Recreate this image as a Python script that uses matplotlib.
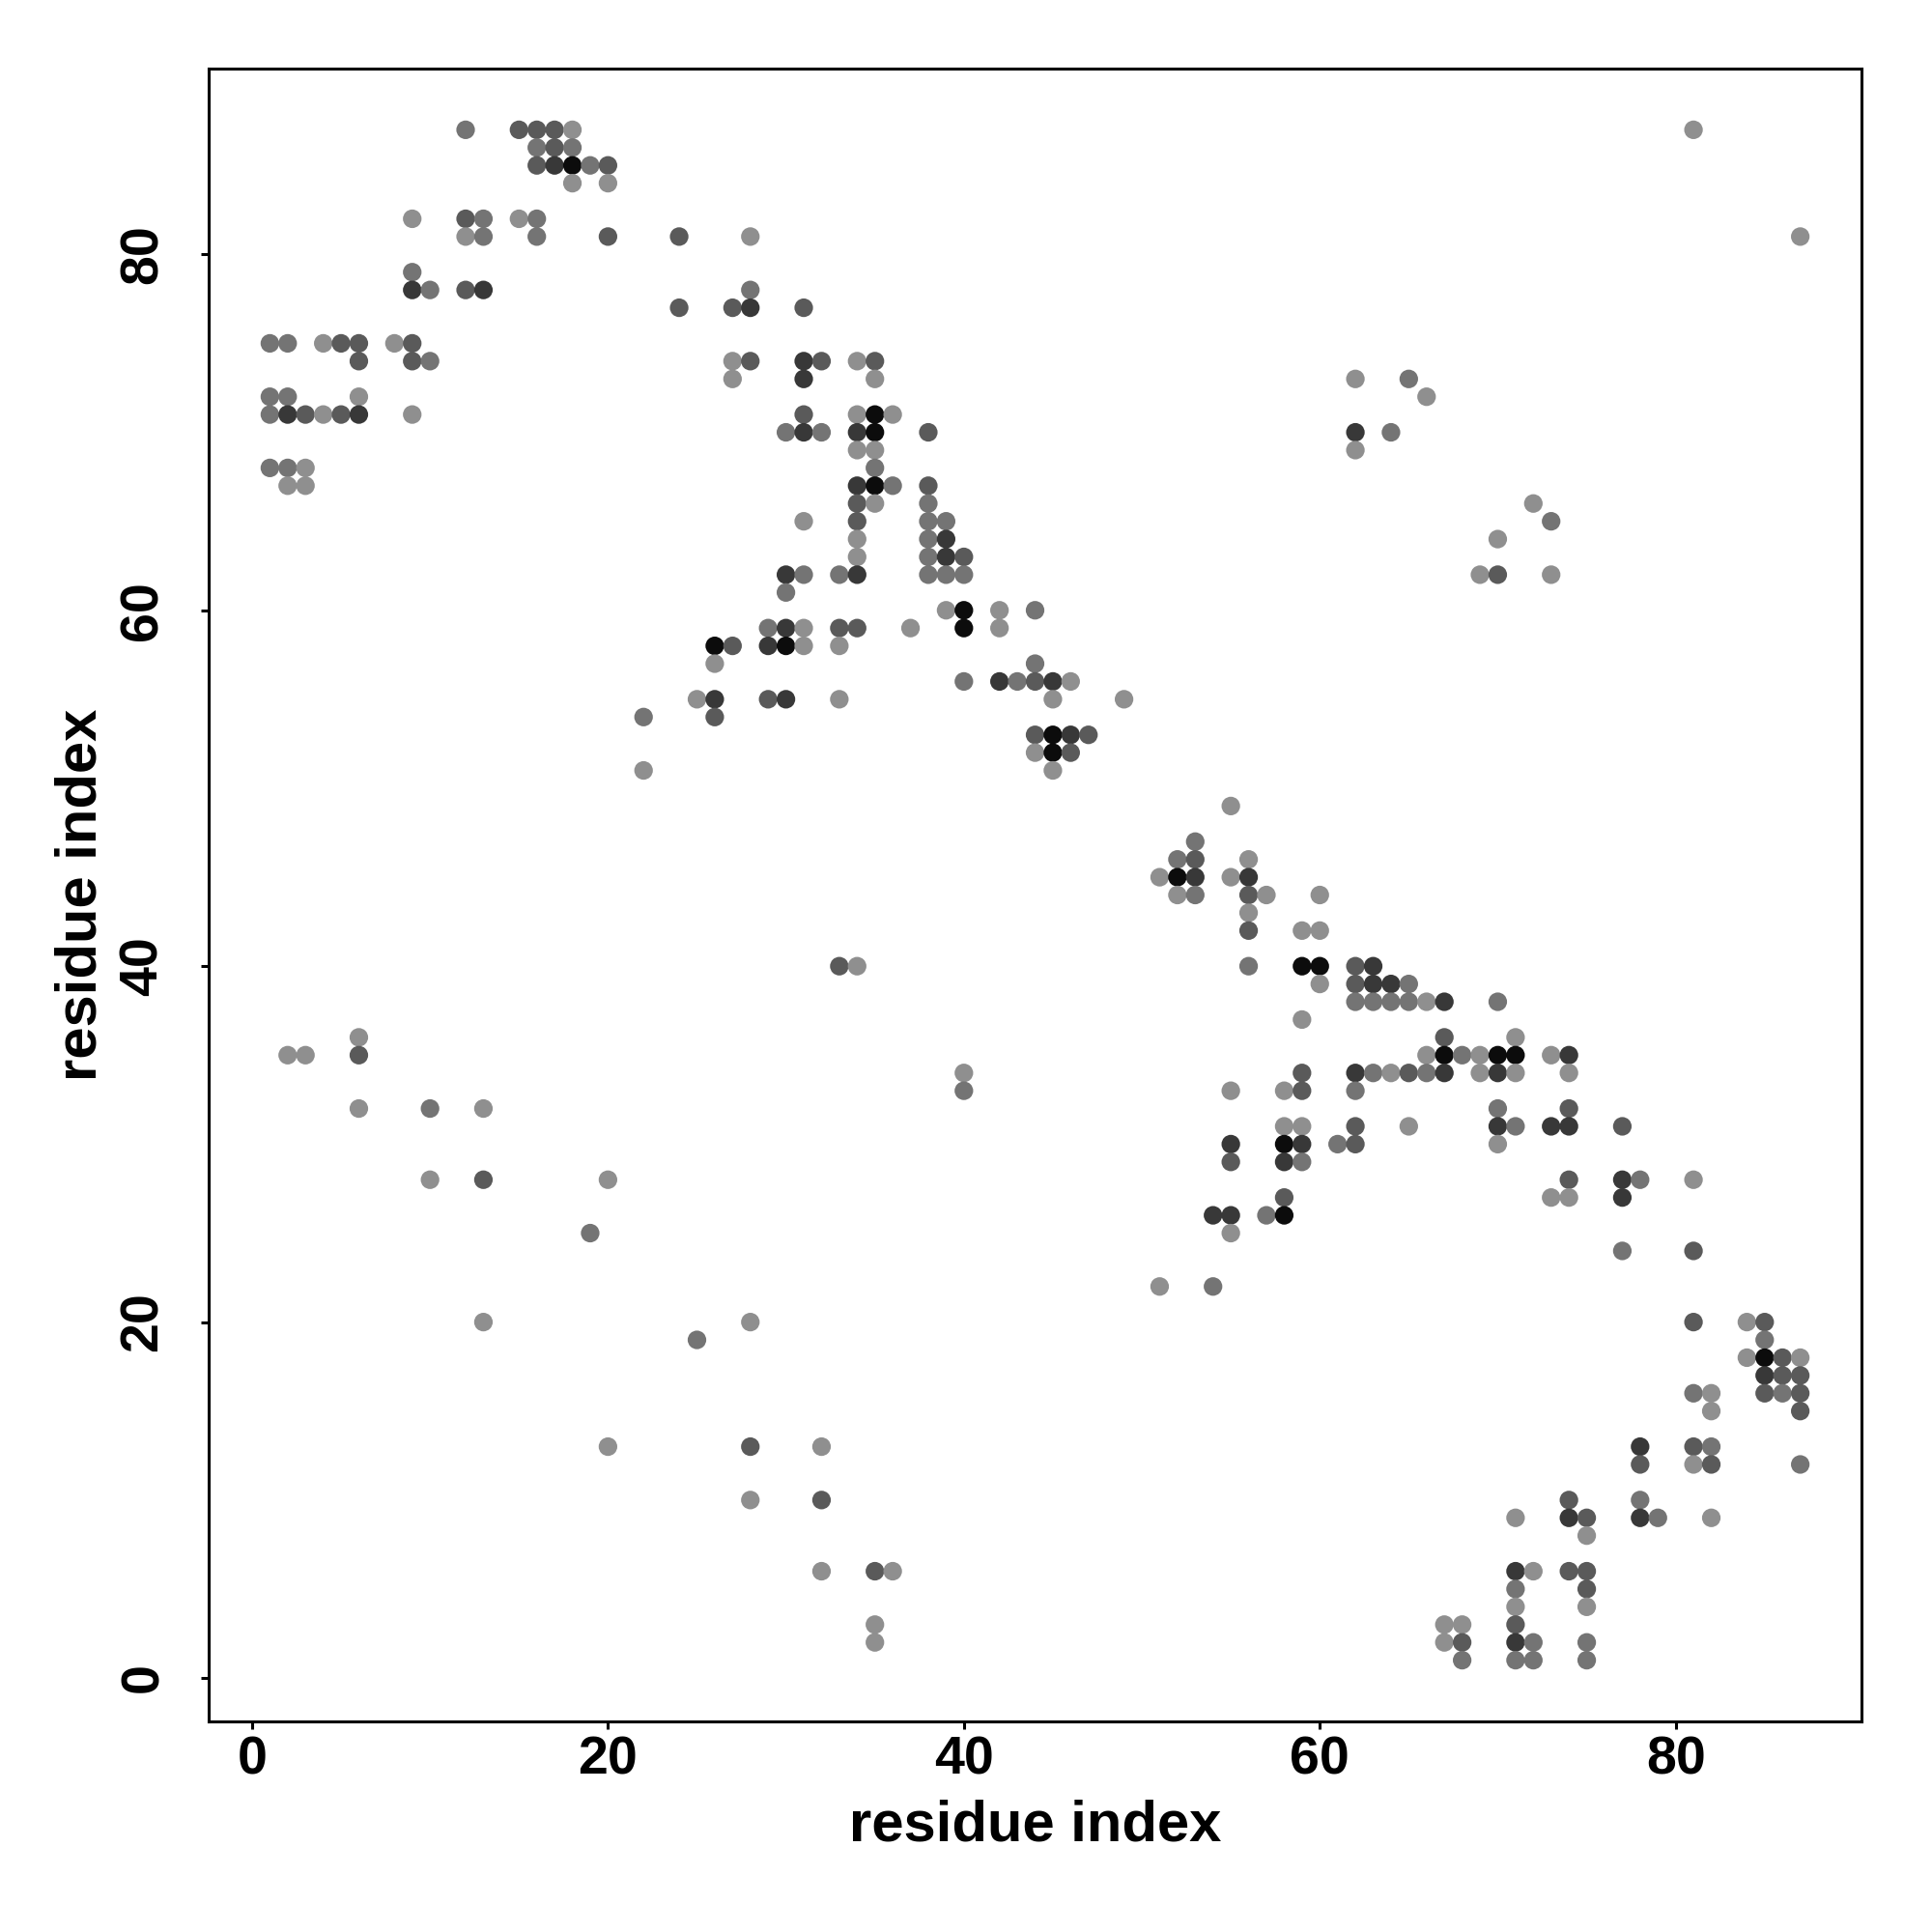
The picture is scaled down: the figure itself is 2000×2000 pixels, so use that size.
import matplotlib
matplotlib.use("Agg")
import matplotlib.pyplot as plt
import numpy as np

# contact map, one entry per row of the plot (residue j), with the partner residues i
# and how many times the contact shows up (drawn darker when it shows up more often)
row_j = [87, 86, 85, 84, 82, 81, 79, 78, 77, 75, 74, 73, 72, 71, 70, 69, 68, 67, 66, 65,
         64, 63, 62, 61, 60, 59, 58, 57, 56, 55, 54, 53, 52, 51, 49, 47, 46, 45, 44, 43,
         42, 40, 39, 38, 37, 36, 35, 34, 33, 32, 31, 30, 29, 28, 27, 26, 25, 24, 22, 20,
         19, 18, 17, 16, 15, 13, 12, 10, 9, 8, 6, 5, 4, 3, 2, 1]

row_i = [
    [12, 15, 16, 17, 18, 81],
    [16, 17, 18],
    [16, 17, 18, 19, 20],
    [18, 20],
    [9, 12, 13, 15, 16],
    [12, 13, 16, 20, 24, 28, 87],
    [9],
    [9, 10, 12, 13, 28],
    [24, 27, 28, 31],
    [1, 2, 4, 5, 6, 8, 9],
    [6, 9, 10, 27, 28, 31, 32, 34, 35],
    [27, 31, 35, 62, 65],
    [1, 2, 6, 66],
    [1, 2, 3, 4, 5, 6, 9, 31, 34, 35, 36],
    [30, 31, 32, 34, 35, 38, 62, 64],
    [34, 35, 62],
    [1, 2, 3, 35],
    [2, 3, 34, 35, 36, 38],
    [34, 35, 38, 72],
    [31, 34, 38, 39, 73],
    [34, 38, 39, 70],
    [34, 38, 39, 40],
    [30, 31, 33, 34, 38, 39, 40, 69, 70, 73],
    [30],
    [39, 40, 42, 44],
    [29, 30, 31, 33, 34, 37, 40, 42],
    [26, 27, 29, 30, 31, 33],
    [26, 44],
    [40, 42, 43, 44, 45, 46],
    [25, 26, 29, 30, 33, 45, 49],
    [22, 26],
    [44, 45, 46, 47],
    [44, 45, 46],
    [22, 45],
    [55],
    [53],
    [52, 53, 56],
    [51, 52, 53, 55, 56],
    [52, 53, 56, 57, 60],
    [56],
    [56, 59, 60],
    [33, 34, 56, 59, 60, 62, 63],
    [60, 62, 63, 64, 65],
    [62, 63, 64, 65, 66, 67, 70],
    [59],
    [6, 67, 71],
    [2, 3, 6, 66, 67, 68, 69, 70, 71, 73, 74],
    [40, 59, 62, 63, 64, 65, 66, 67, 69, 70, 71, 74],
    [40, 55, 58, 59, 62],
    [6, 10, 13, 70, 74],
    [58, 59, 62, 65, 70, 71, 73, 74, 77],
    [55, 58, 59, 61, 62, 70],
    [55, 58, 59],
    [10, 13, 20, 74, 77, 78, 81],
    [58, 73, 74, 77],
    [54, 55, 57, 58],
    [19, 55],
    [77, 81],
    [51, 54],
    [13, 28, 81, 84, 85],
    [25, 85],
    [84, 85, 86, 87],
    [85, 86, 87],
    [81, 82, 85, 86, 87],
    [82, 87],
    [20, 28, 32, 78, 81, 82],
    [78, 81, 82, 87],
    [28, 32, 74, 78],
    [71, 74, 75, 78, 79, 82],
    [75],
    [32, 35, 36, 71, 72, 74, 75],
    [71, 75],
    [71, 75],
    [35, 67, 68, 71],
    [35, 67, 68, 71, 72, 75],
    [68, 71, 72, 75],
]

row_n = [
    [2, 3, 3, 3, 1, 1],
    [2, 3, 2],
    [3, 4, 5, 2, 3],
    [1, 1],
    [1, 3, 2, 1, 2],
    [1, 2, 2, 3, 3, 1, 1],
    [2],
    [4, 2, 3, 4, 2],
    [3, 3, 4, 3],
    [2, 2, 1, 3, 3, 1, 3],
    [3, 3, 2, 1, 3, 4, 3, 1, 3],
    [1, 4, 1, 1, 2],
    [2, 2, 1, 1],
    [2, 4, 3, 1, 3, 4, 1, 3, 1, 5, 1],
    [2, 4, 2, 4, 5, 3, 4, 2],
    [1, 1, 1],
    [2, 2, 1, 2],
    [1, 1, 4, 5, 2, 3],
    [3, 1, 2, 1],
    [1, 3, 2, 2, 2],
    [1, 2, 4, 1],
    [1, 2, 4, 3],
    [4, 2, 2, 4, 2, 2, 2, 1, 3, 1],
    [2],
    [1, 5, 1, 2],
    [2, 4, 1, 3, 3, 1, 5, 1],
    [5, 3, 4, 5, 1, 1],
    [1, 2],
    [2, 4, 2, 3, 4, 1],
    [1, 4, 3, 4, 1, 1, 1],
    [2, 3],
    [3, 5, 4, 3],
    [1, 5, 3],
    [1, 1],
    [1],
    [2],
    [2, 3, 1],
    [1, 5, 4, 1, 4],
    [1, 2, 3, 1, 1],
    [1],
    [3, 1, 1],
    [3, 1, 2, 5, 5, 3, 4],
    [1, 3, 4, 4, 2],
    [2, 2, 2, 2, 1, 4, 2],
    [1],
    [1, 3, 1],
    [1, 1, 3, 1, 5, 2, 1, 5, 5, 1, 4],
    [1, 3, 4, 2, 1, 3, 2, 4, 1, 4, 1, 1],
    [2, 1, 1, 3, 2],
    [1, 2, 1, 2, 3],
    [1, 1, 3, 1, 4, 2, 4, 4, 3],
    [4, 5, 4, 2, 3, 1],
    [3, 4, 2],
    [1, 3, 1, 3, 4, 2, 1],
    [3, 1, 1, 4],
    [4, 4, 2, 5],
    [2, 1],
    [2, 3],
    [1, 2],
    [1, 1, 3, 1, 3],
    [2, 2],
    [1, 5, 3, 1],
    [4, 3, 3],
    [2, 1, 3, 2, 3],
    [1, 3],
    [1, 3, 1, 4, 3, 2],
    [3, 1, 3, 2],
    [1, 3, 3, 2],
    [1, 4, 3, 4, 2, 1],
    [1],
    [1, 3, 1, 4, 1, 3, 3],
    [2, 3],
    [1, 1],
    [1, 1, 1, 3],
    [1, 1, 3, 4, 2, 2],
    [2, 2, 2, 2],
]

grey_levels = {1: "#8f8f8f", 2: "#747474", 3: "#5a5a5a", 4: "#383838", 5: "#0c0c0c"}

xs, ys, cols = [], [], []
for j, ii, nn in zip(row_j, row_i, row_n):
    for i, n in zip(ii, nn):
        xs.append(i)
        ys.append(j)
        cols.append(grey_levels[n])

plt.rcParams["font.family"] = ["Liberation Sans", "DejaVu Sans"]
plt.rcParams["font.weight"] = "bold"

fig = plt.figure(figsize=(10, 10), dpi=200)
ax = fig.add_axes([0.108, 0.109, 0.8555, 0.8555])

ax.scatter(xs, ys, s=48, c=cols, linewidths=0)

lo, hi = min(min(xs), min(ys)), max(max(xs), max(ys))
pad = 0.04 * (hi - lo)
ax.set_xlim(lo - pad, hi + pad)
ax.set_ylim(lo - pad, hi + pad)

ax.set_xticks([0, 20, 40, 60, 80])
ax.set_yticks([0, 20, 40, 60, 80])
ax.tick_params(axis="both", direction="out", length=2.8, width=1.1, labelsize=20)
ax.tick_params(axis="x", pad=2.5)
ax.tick_params(axis="y", pad=12)
for lab in ax.get_yticklabels():
    lab.set_rotation(90)
    lab.set_verticalalignment("center")
for sp in ax.spines.values():
    sp.set_linewidth(1.1)

ax.set_xlabel("residue index", fontsize=21.5, fontweight="bold", labelpad=5)
ax.set_ylabel("residue index", fontsize=21.5, fontweight="bold", labelpad=4)

fig.savefig("out.png", dpi=200)
